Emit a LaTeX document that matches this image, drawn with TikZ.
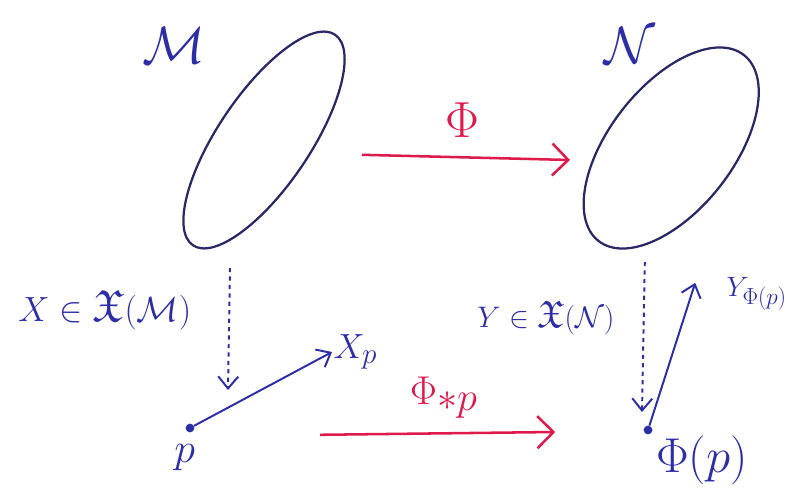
\documentclass[tikz,border=0pt]{standalone}
\usepackage{amsmath,amssymb}
\usetikzlibrary{arrows.meta,shapes.geometric}
\definecolor{inkblue}{RGB}{45,45,165}
\definecolor{inkred}{RGB}{222,25,75}
\definecolor{inkdark}{RGB}{40,40,100}
\tikzset{
    lbl/.style={inkblue, font=\fontsize{32}{36}\selectfont},
    redlbl/.style={inkred, font=\fontsize{40}{44}\selectfont},
    manifold/.style={draw=inkdark, line width=1.6pt, ellipse, inner sep=0pt},
    pen/.style={inkblue, line width=1.4pt},
    redpen/.style={inkred, line width=1.8pt, -{Straight Barb[length=4mm,width=8mm]}},
    dot/.style={circle, fill=inkblue, inner sep=2.2pt},
}
\begin{document}
\begin{tikzpicture}[>={Straight Barb[length=3mm,width=5mm]}]
    \useasboundingbox (0,0) rectangle (19.725,12.55);

    % the two manifolds
    \node[manifold, minimum width=6.35cm, minimum height=2.3cm, rotate=56] (M) at (6.6,9.05) {};
    \node[manifold, minimum width=5.9cm, minimum height=3.1cm, rotate=52] (N) at (16.78,8.85) {};
    \node[lbl, scale=1.5] (Mname) at (4.35,11.4) {$\mathcal{M}$};
    \node[lbl, scale=1.5] (Nname) at (15.75,11.4) {$\mathcal{N}$};

    % the map between them
    \coordinate (phiL) at (9.05,8.68);
    \coordinate (phiR) at (14.25,8.55);
    \draw[redpen] (phiL) -- (phiR);
    \node[redlbl, scale=1.45] (Phi) at (11.55,9.55) {$\Phi$};

    % fields
    \node[lbl] (Xfield) at (2.62,4.8) {$X\in\mathfrak{X}(\mathcal{M})$};
    \node[lbl, scale=0.85] (Yfield) at (13.65,4.6) {$Y\in\mathfrak{X}(\mathcal{N})$};

    % left side: p and X_p
    \node[dot] (p) at (4.75,1.85) {};
    \node[lbl, anchor=north, scale=1.2] (plbl) at (4.62,1.6) {$p$};
    \coordinate (Xp) at (8.3,3.75);
    \draw[pen, ->] (p) -- (Xp);
    \node[lbl, anchor=west, inner sep=1pt] (Xplbl) at (Xp) {$X_p$};
    \coordinate (dM1) at (5.75,5.85);
    \coordinate (dM2) at (5.7,2.8);
    \draw[pen, dashed, ->] (dM1) -- (dM2);

    % push-forward
    \coordinate (pushL) at (8.0,1.68);
    \coordinate (pushR) at (13.88,1.75);
    \draw[redpen] (pushL) -- (pushR);
    \node[redlbl, scale=1.15] (push) at (11.1,2.6) {$\Phi_{*p}$};

    % right side: Phi(p) and Y
    \node[dot] (Phip) at (16.2,1.8) {};
    \node[lbl, scale=1.4] (Phiplbl) at (17.55,1.05) {$\Phi(p)$};
    \coordinate (Ytip) at (17.38,5.48);
    \draw[pen, ->] (Phip) -- (Ytip);
    \node[lbl, scale=0.8, anchor=east, inner sep=1pt] (Ylbl) at (19.7,5.2) {$Y_{\Phi(p)}$};
    \coordinate (dN1) at (16.12,6.0);
    \coordinate (dN2) at (16.05,2.25);
    \draw[pen, dashed, ->] (dN1) -- (dN2);
\end{tikzpicture}
\end{document}
